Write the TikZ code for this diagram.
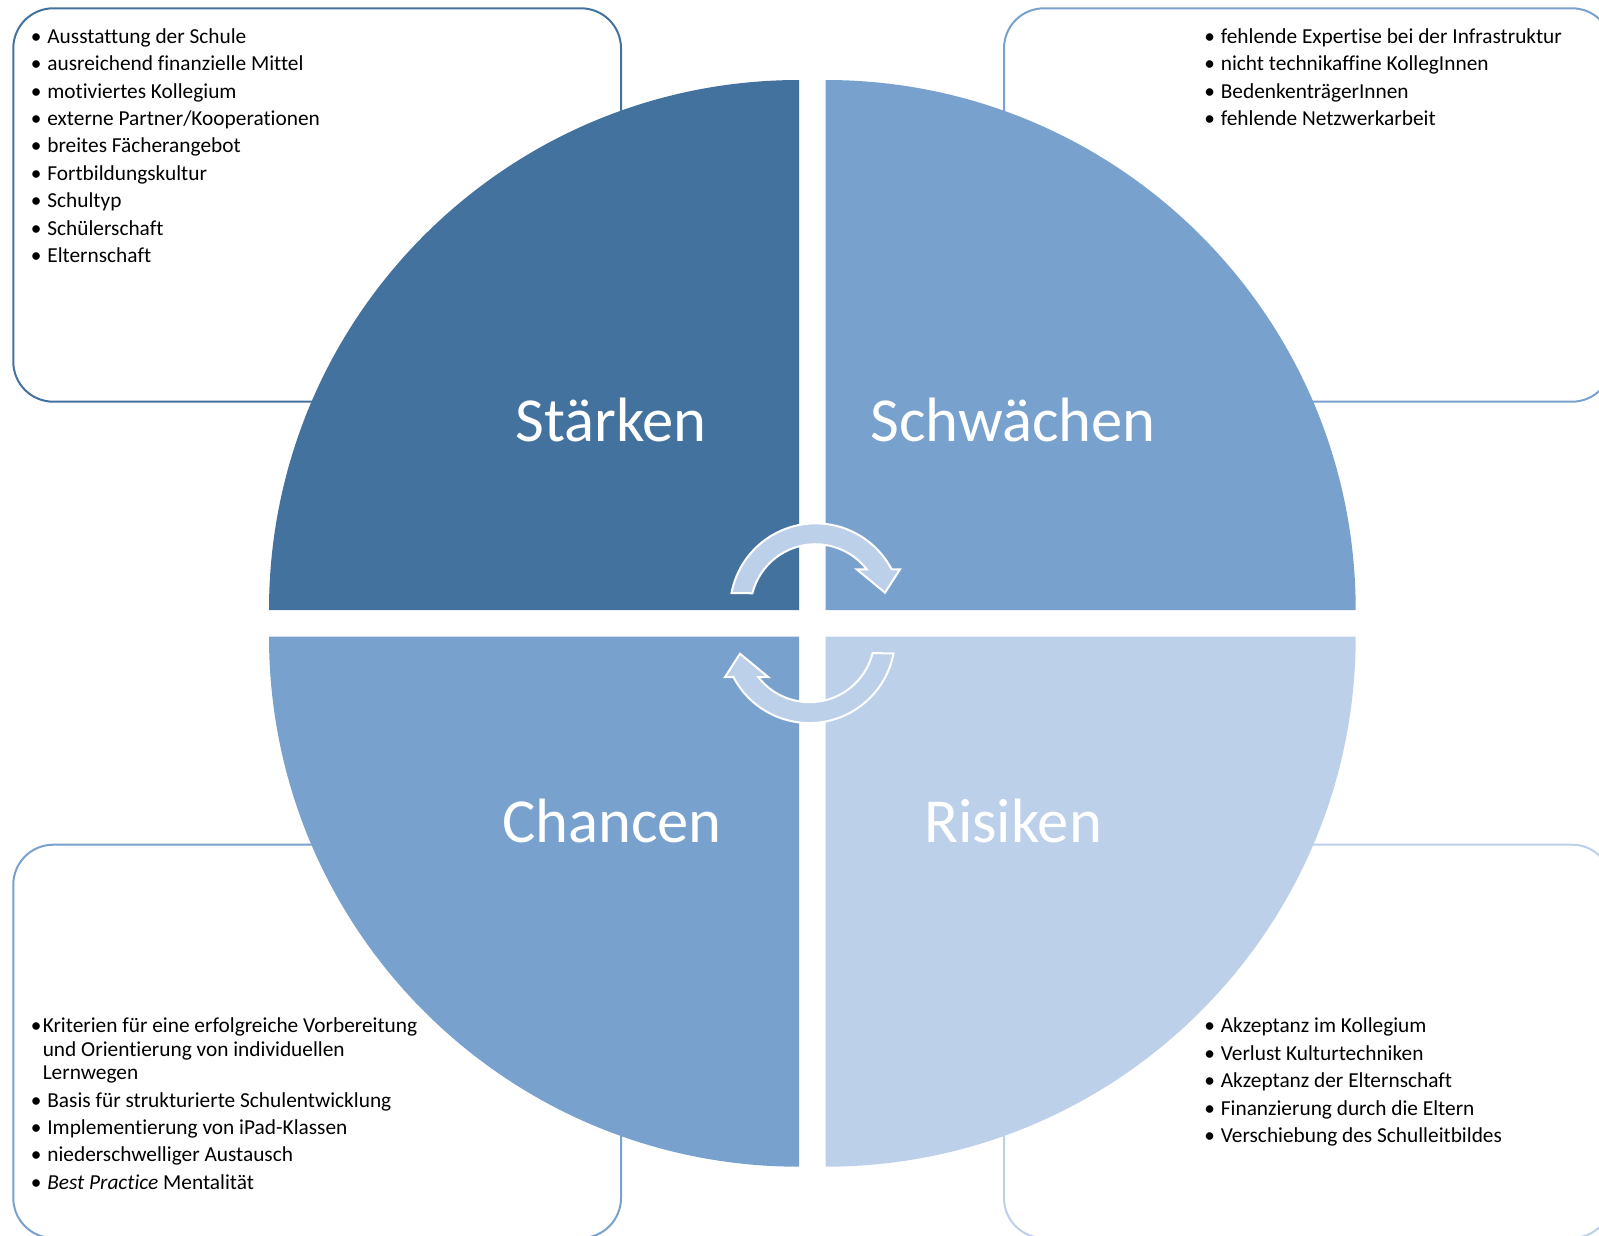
\documentclass[tikz,border=0pt]{standalone}
\usepackage{fontspec}
\setmainfont{Carlito}[Ligatures=CommonOff]

\definecolor{darkq}{RGB}{68,114,158}
\definecolor{midq}{RGB}{120,161,206}
\definecolor{lightq}{RGB}{189,208,234}

\newcommand{\bul}[1][12.45pt]{\makebox[#1][l]{\textbullet}}

\begin{document}
\begin{tikzpicture}[x=0.75pt,y=-0.75pt,
    item/.style={anchor=base west,inner sep=0pt,font=\fontsize{16}{19}\selectfont},
    title/.style={anchor=base,inner sep=0pt,text=white,font=\fontsize{47}{56}\selectfont},
    listbox/.style={line width=1.5pt,rounded corners=30pt},
    turn arrow/.style={fill=lightq,draw=white,line width=1.5pt}]
\clip (0,0) rectangle (1599,1235);

% text boxes behind the circle
\draw[listbox,draw=darkq] (13.3,8.3) rectangle (621,401.7);
\draw[listbox,draw=midq] (1004,8.3) rectangle (1612,401.7);
\draw[listbox,draw=midq] (13.3,844.7) rectangle (621,1238);
\draw[listbox,draw=lightq] (1004,844.7) rectangle (1612,1238);

% four quarters
\fill[darkq] (799,610) -- (269,610) arc[start angle=180,end angle=270,radius=530] -- cycle;
\fill[midq] (825.7,610) -- (825.7,80) arc[start angle=270,end angle=360,radius=530] -- cycle;
\fill[lightq] (825.7,636.7) -- (1355.7,636.7) arc[start angle=0,end angle=90,radius=530] -- cycle;
\fill[midq] (799,636.7) -- (799,1166.7) arc[start angle=90,end angle=180,radius=530] -- cycle;

\node[title] (staerken) at (611,441.5) {Stärken};
\node[title] (schwaechen) at (1013,441.5) {Schwächen};
\node[title] (chancen) at (612,842.5) {Chancen};
\node[title] (risiken) at (1013,842.5) {Risiken};

% the two turning arrows in the middle
\foreach \rot in {0,180}
    \draw[turn arrow,rotate around={\rot:(812.5,623.2)}]
        (731.5,593) arc[start angle=190.8,end angle=332.4,radius=85.7]
        -- (900,569.3) -- (885,592.7) -- (856.7,569.3) -- (866.7,569.3)
        arc[start angle=322.1,end angle=194.2,radius=65] -- cycle;

% Staerken
\foreach \t [count=\i] in {Ausstattung der Schule,ausreichend finanzielle Mittel,
        motiviertes Kollegium,externe Partner/Kooperationen,breites Fächerangebot,
        Fortbildungskultur,Schultyp,Schülerschaft,Elternschaft}
    \node[item] (s\i) at (30.5,{43.3+(\i-1)*27.4}) {\bul\t};

% Schwaechen
\foreach \t [count=\i] in {fehlende Expertise bei der Infrastruktur,
        nicht technikaffine KollegInnen,BedenkenträgerInnen,fehlende Netzwerkarbeit}
    \node[item] (w\i) at (1204,{43.3+(\i-1)*27.4}) {\bul\t};

% Chancen
\node[item] (c1) at (30.5,1032.7) {\bul[9pt]Kriterien für eine erfolgreiche Vorbereitung};
\node[item] (c1b) at (42.5,1056.1) {und Orientierung von individuellen};
\node[item] (c1c) at (42.5,1079.6) {Lernwegen};
\node[item] (c2) at (30.5,1107.1) {\bul Basis für strukturierte Schulentwicklung};
\node[item] (c3) at (30.5,1134.5) {\bul Implementierung von iPad-Klassen};
\node[item] (c4) at (30.5,1161.8) {\bul niederschwelliger Austausch};
\node[item] (c5) at (30.5,1189) {\bul\textit{Best Practice} Mentalität};

% Risiken
\foreach \t [count=\i] in {Akzeptanz im Kollegium,Verlust Kulturtechniken,
        Akzeptanz der Elternschaft,Finanzierung durch die Eltern,
        Verschiebung des Schulleitbildes}
    \node[item] (r\i) at (1204,{1032.7+(\i-1)*27.5}) {\bul\t};
\end{tikzpicture}
\end{document}
